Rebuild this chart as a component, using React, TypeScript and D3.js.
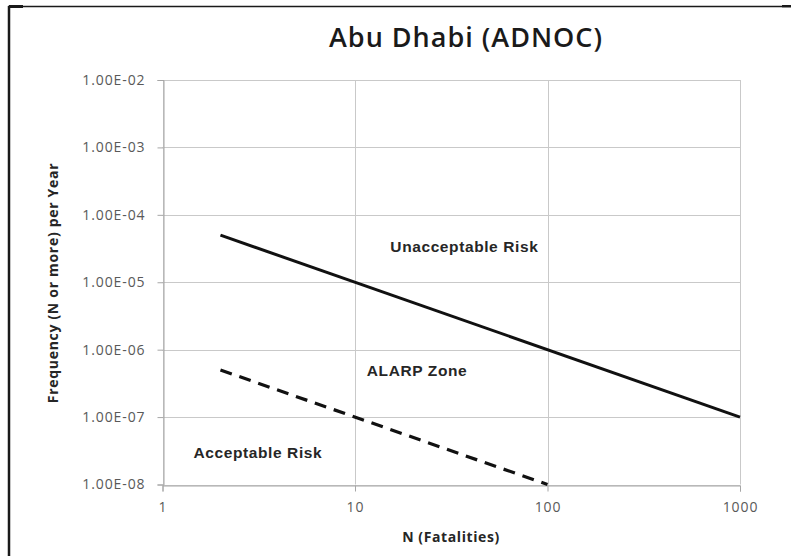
import React, { useEffect, useRef } from 'react';
import * as d3 from 'd3';

// N (fatalities) and frequency values for the two criteria lines
const intolerableN = [2, 1000];
const intolerableF = [5e-5, 1e-7];
const broadlyN = [2, 100];
const broadlyF = [5e-7, 1e-8];

const xTicks = [1, 10, 100, 1000];
const yTicks = [1e-2, 1e-3, 1e-4, 1e-5, 1e-6, 1e-7, 1e-8];

const zoneLabels = ['Unacceptable Risk', 'ALARP Zone', 'Acceptable Risk'];
const zoneN = [37, 21, 3.13];
const zoneF = [2.85e-5, 4.1e-7, 2.45e-8];

const W = 791;
const H = 556;

export default function App() {
  const ref = useRef<SVGSVGElement>(null);

  useEffect(() => {
    const svg = d3.select(ref.current).html('');
    const m = { left: 162.5, right: 740, top: 80, bottom: 484.5 };

    const x = d3.scaleLog().domain([1, 1000]).range([m.left, m.right]);
    const y = d3.scaleLog().domain([1e-8, 1e-2]).range([m.bottom, m.top]);

    svg.append('rect').attr('width', W).attr('height', H).attr('fill', '#fff');

    // frame (left and top edges only in the source)
    svg.append('line').attr('x1', 9).attr('x2', 9).attr('y1', 6).attr('y2', H)
      .attr('stroke', '#1a1a1a').attr('stroke-width', 2.5);
    svg.append('line').attr('x1', 8).attr('x2', 782).attr('y1', 6.5).attr('y2', 6.5)
      .attr('stroke', '#1a1a1a').attr('stroke-width', 1.5);
    svg.append('rect').attr('x', 9).attr('y', 5).attr('width', 14).attr('height', 3).attr('fill', '#1a1a1a');
    svg.append('rect').attr('x', 782).attr('y', 5).attr('width', 9).attr('height', 2.5).attr('fill', '#1a1a1a');

    // gridlines
    const grid = svg.append('g').attr('stroke', '#c9c9c9').attr('stroke-width', 1);
    yTicks.forEach(t => {
      grid.append('line').attr('x1', m.left).attr('x2', m.right)
        .attr('y1', Math.round(y(t)) + 0.5).attr('y2', Math.round(y(t)) + 0.5);
    });
    xTicks.forEach(t => {
      grid.append('line').attr('y1', m.top).attr('y2', m.bottom)
        .attr('x1', Math.round(x(t)) + 0.5).attr('x2', Math.round(x(t)) + 0.5);
    });

    // axes
    const yAxis = svg.append('g')
      .attr('transform', `translate(${Math.round(m.left) + 0.5},0)`)
      .call(d3.axisLeft(y).tickValues(yTicks).tickSize(6).tickPadding(12)
        .tickFormat(d => {
          const e = Math.round(Math.log10(+d));
          return `1.00E-${String(-e).padStart(2, '0')}`;
        }));
    const xAxis = svg.append('g')
      .attr('transform', `translate(0,${Math.round(m.bottom) + 0.5})`)
      .call(d3.axisBottom(x).tickValues(xTicks).tickSize(6).tickPadding(11)
        .tickFormat(d => String(d)));

    [yAxis, xAxis].forEach(a => {
      a.select('.domain').attr('stroke', '#a6a6a6');
      a.selectAll('.tick line').attr('stroke', '#a6a6a6');
      a.selectAll('.tick text')
        .attr('fill', '#595959')
        .style('font-family', '"Open Sans", sans-serif')
        .style('font-size', '14px')
        .style('letter-spacing', '0.9px');
    });

    // criteria lines
    const line = d3.line<[number, number]>().x(d => x(d[0])).y(d => y(d[1]));
    svg.append('path')
      .datum(d3.zip(intolerableN, intolerableF) as [number, number][])
      .attr('d', line).attr('fill', 'none')
      .attr('stroke', '#111').attr('stroke-width', 3);
    svg.append('path')
      .datum(d3.zip(broadlyN, broadlyF) as [number, number][])
      .attr('d', line).attr('fill', 'none')
      .attr('stroke', '#111').attr('stroke-width', 3.2)
      .attr('stroke-dasharray', '12,8');

    // zone annotations
    zoneLabels.forEach((lab, i) => {
      svg.append('text')
        .attr('x', x(zoneN[i])).attr('y', y(zoneF[i]))
        .attr('text-anchor', 'middle')
        .style('font-family', '"Liberation Sans", Arial, sans-serif')
        .style('font-weight', 'bold')
        .style('font-size', '15.5px')
        .style('letter-spacing', '0.6px')
        .attr('fill', '#262626')
        .text(lab);
    });

    // title and axis titles
    svg.append('text')
      .attr('x', 466).attr('y', 47)
      .attr('text-anchor', 'middle')
      .style('font-family', '"Open Sans", sans-serif')
      .style('font-weight', 600)
      .style('font-size', '27px')
      .style('letter-spacing', '1px')
      .attr('fill', '#1a1a1a')
      .text('Abu Dhabi (ADNOC)');

    svg.append('text')
      .attr('x', 451).attr('y', 542)
      .attr('text-anchor', 'middle')
      .style('font-family', '"Open Sans", sans-serif')
      .style('font-weight', 'bold')
      .style('font-size', '14px')
      .style('letter-spacing', '0.6px')
      .attr('fill', '#262626')
      .text('N (Fatalities)');

    svg.append('text')
      .attr('transform', `translate(58,283) rotate(-90)`)
      .attr('text-anchor', 'middle')
      .style('font-family', '"Open Sans", sans-serif')
      .style('font-weight', 'bold')
      .style('font-size', '14px')
      .style('letter-spacing', '0.7px')
      .attr('fill', '#262626')
      .text('Frequency (N or more) per Year');
  }, []);

  return (
    <svg
      ref={ref}
      width={W}
      height={H}
      style={{ position: 'absolute', left: 0, top: 0, display: 'block' }}
    />
  );
}
